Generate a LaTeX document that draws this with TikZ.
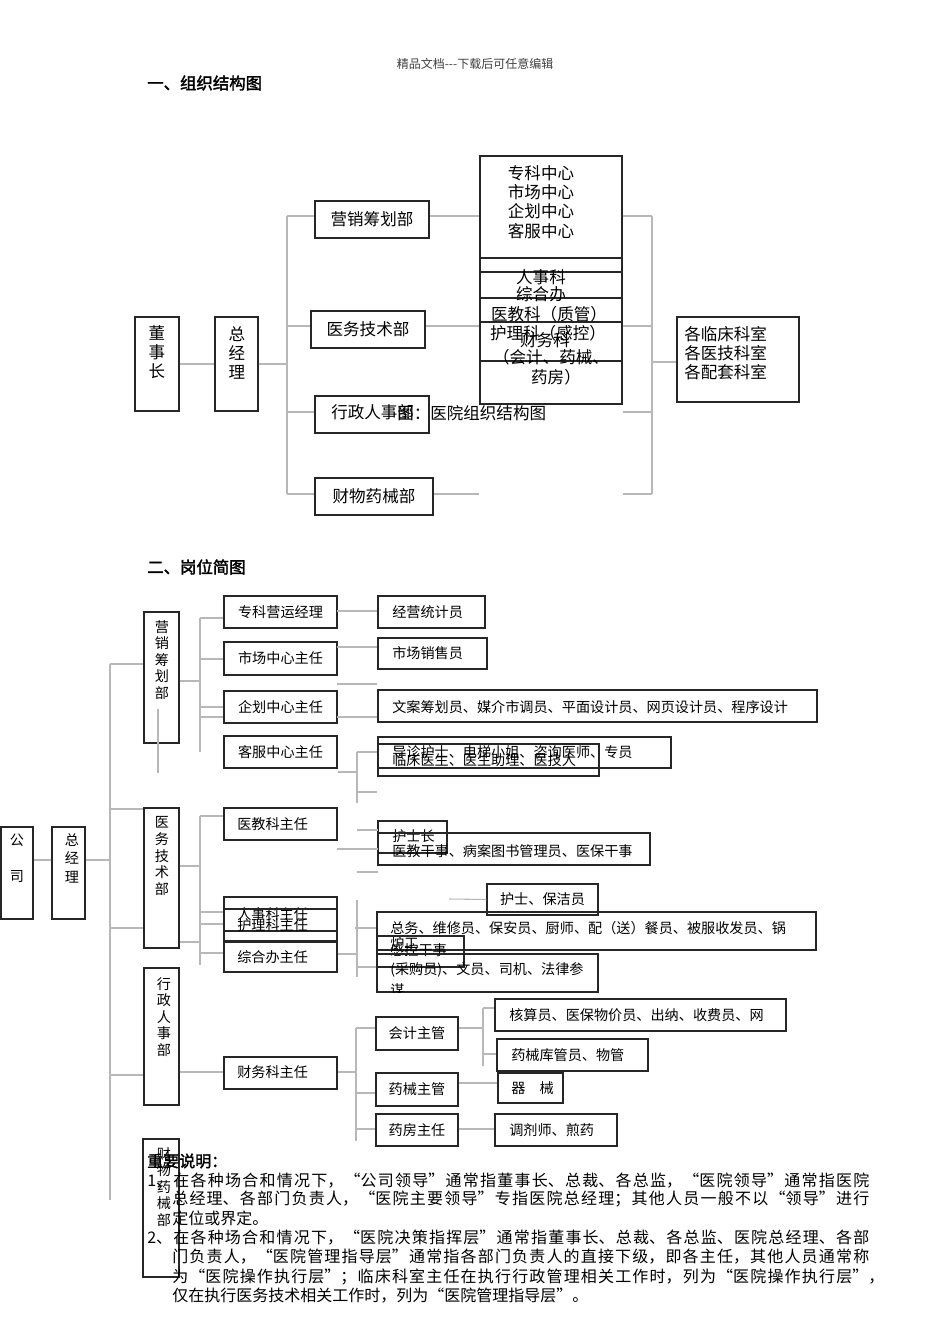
\documentclass[tikz,border=0pt]{standalone}
\usepackage{fontspec}
\setmainfont{Noto Sans CJK SC}
\newfontfamily\heiti[FakeBold=2]{Noto Sans CJK SC}
\usetikzlibrary{fit}
\tikzset{
  box/.style={draw=black!85, line width=1.1pt, inner sep=0pt},
  link/.style={draw=black!28, line width=0.8pt},
  bigT/.style={inner sep=0pt, font=\fontsize{12.4}{14.4}\selectfont},
  smallT/.style={inner sep=0pt, font=\fontsize{10.6}{12.4}\selectfont},
  rowT/.style={smallT, anchor=west},
  headT/.style={inner sep=0pt, anchor=west, font=\heiti\fontsize{12.3}{14}\selectfont},
  noteT/.style={inner sep=0pt, anchor=west, font=\fontsize{12}{14}\selectfont},
  colA/.style={bigT, align=center},
  colB/.style={smallT, align=center},
}
\newcommand\noteline[2]{\parbox{#1}{\XeTeXlinebreaklocale "zh"%
  \XeTeXlinebreakskip=0pt plus 2pt\relax\parfillskip=0pt\noindent #2}}

\begin{document}
\begin{tikzpicture}[x=0.75pt, y=-0.75pt]
  \fill[white] (0,0) rectangle (950,1344);
  \useasboundingbox (0,0) rectangle (950,1344);
  %% page header and first title
  \node[inner sep=0pt, text=black!75, font=\fontsize{9}{11}\selectfont]
       (hdr) at (475,64) {精品文档{-}{-}{-}下载后可任意编辑};
  \node[headT] (sec1) at (147,83) {一、组织结构图};

  %% part one: organisation chart
  \node[box, fit={(135,317) (179,411)}] (dsz) {};
  \node[colA] (dszT) at (157,352) {董\\事\\长};
  \node[box, fit={(215,317) (258,411)}] (zjl) {};
  \node[colA] (zjlT) at (237,353) {总\\经\\理};
  \node[box, fit={(315,201) (429,238)}] (yx) {};
  \node[bigT] (yxT) at (yx) {营销筹划部};
  \node[box, fit={(311,311) (425,348)}] (yw) {};
  \node[bigT] (ywT) at (yw) {医务技术部};
  \node[box, fit={(315,396) (429,433)}] (xz) {};
  \node[bigT, anchor=west] (xzT) at (331,412) {行政人事部};
  \node[box, fit={(315,478) (433,515)}] (cw) {};
  \node[bigT] (cwT) at (cw) {财物药械部};
  \node[bigT, anchor=west] (cap) at (397,413) {图：医院组织结构图};
  %% the stacked column of offices
  \node[box, fit={(480,156) (622,404)}] (ks) {};
  \node[colA] (ksT) at (541,202) {专科中心\\市场中心\\企划中心\\客服中心};
  \node[box, fit={(480,258) (622,272)}] (ks1) {};
  \node[box, fit={(480,272) (622,298)}] (ks2) {};
  \node[box, fit={(480,298) (622,322)}] (ks3) {};
  \node[box, fit={(480,322) (622,361)}] (ks4) {};
  \node[bigT] (rskT) at (541,277) {人事科};
  \node[bigT] (zhbT) at (541,294) {综合办};
  \node[bigT] (yjkT) at (549,314) {医教科（质管）};
  \node[bigT] (hlkT) at (548,333) {护理科（感控）};
  \node[bigT] (cwkT) at (545,340) {财务科};
  \node[bigT] (kjT) at (551,357) {（会计、药械、};
  \node[bigT] (yfT) at (556,377) {药房）};
  \node[box, fit={(677,317) (799,402)}] (gks) {};
  \node[colA, anchor=west, align=left] (gksT) at (684,353)
       {各临床科室\\各医技科室\\各配套科室};
  %% part one: connectors
  \coordinate (b1) at (287,216);
  \coordinate (b2) at (287,326);
  \coordinate (b3) at (287,412);
  \coordinate (b4) at (287,494);
  \coordinate (c1) at (652,216);
  \coordinate (c2) at (652,326);
  \coordinate (c3) at (652,412);
  \coordinate (c4) at (652,494);
  \coordinate (cm) at (652,362);
  \draw[link] (dsz.east) -- (zjl.west);
  \draw[link] (zjl.east) -- (zjl.east -| b1);
  \draw[link] (b1) -- (b4);
  \foreach \p/\n in {b1/yx, b2/yw, b3/xz, b4/cw}
    \draw[link] (\p) -- (\p -| \n.west);
  \draw[link] (b1 -| yx.east) -- (b1 -| ks.west)
              (b2 -| yw.east) -- (b2 -| ks.west)
              (b4 -| cw.east) -- (b4 -| ks.west);
  \draw[link] (c1) -- (c4);
  \foreach \p in {c1, c2, c3, c4}
    \draw[link] (\p -| ks.east) -- (\p);
  \draw[link] (cm) -- (cm -| gks.west);

  %% part two: posts
  \node[headT] (sec2) at (147,567) {二、岗位简图};
  \node[box, fit={(1,827) (33,919)}] (gs) {};
  \node[colB] (gsT) at (17,858) {公\\[15pt]司};
  \node[box, fit={(52,827) (85,919)}] (zjl2) {};
  \node[colB] (zjl2T) at (72,858) {总\\[1.5pt]经\\[1.5pt]理};
  \node[box, fit={(144,612) (179,743)}] (yx2) {};
  \node[colB] (yx2T) at (162,660) {营\\销\\筹\\划\\部};
  \node[box, fit={(144,808) (179,948)}] (yw2) {};
  \node[colB] (yw2T) at (162,856) {医\\务\\技\\术\\部};
  \node[box, fit={(144,968) (179,1105)}] (xz2) {};
  \node[colB] (xz2T) at (164,1017) {行\\政\\人\\事\\部};
  \node[box, fit={(143,1139) (179,1277)}] (cw2) {};
  \node[colB] (cw2T) at (164,1187) {财\\物\\药\\械\\部};
  %% heads of the offices
  \node[box, fit={(224,596) (337,628)}] (zkyy) {};
  \node[smallT] (zkyyT) at (zkyy) {专科营运经理};
  \node[box, fit={(224,642) (337,675)}] (sczx) {};
  \node[smallT] (sczxT) at (sczx) {市场中心主任};
  \node[box, fit={(224,691) (337,723)}] (qhzx) {};
  \node[smallT] (qhzxT) at (qhzx) {企划中心主任};
  \node[box, fit={(224,736) (337,768)}] (kfzx) {};
  \node[smallT] (kfzxT) at (kfzx) {客服中心主任};
  \node[box, fit={(224,808) (337,840)}] (yjk) {};
  \node[rowT] (yjkT2) at (237,824) {医教科主任};
  \node[box, fit={(224,897) (337,931)}] (rsk) {};
  \node[rowT] (rskT2) at (237,914) {人事科主任};
  \node[box, fit={(224,909) (337,941)}] (hlk) {};
  \node[rowT] (hlkT2) at (237,925) {护理科主任};
  \node[box, fit={(224,942) (337,972)}] (zhb) {};
  \node[rowT] (zhbT2) at (237,957) {综合办主任};
  \node[box, fit={(224,1057) (337,1089)}] (cwk) {};
  \node[rowT] (cwkT2) at (237,1072) {财务科主任};
  \node[box, fit={(376,1017) (458,1050)}] (kj) {};
  \node[smallT] (kjT2) at (kj) {会计主管};
  \node[box, fit={(376,1073) (458,1106)}] (yxzg) {};
  \node[smallT] (yxzgT) at (yxzg) {药械主管};
  \node[box, fit={(376,1114) (458,1146)}] (yfzr) {};
  \node[smallT] (yfzrT) at (yfzr) {药房主任};
  %% staff boxes
  \node[box, fit={(378,596) (485,628)}] (jytj) {};
  \node[rowT] (jytjT) at (392,612) {经营统计员};
  \node[box, fit={(378,638) (487,669)}] (scxs) {};
  \node[rowT] (scxsT) at (392,653) {市场销售员};
  \node[box, fit={(378,690) (817,722)}] (wa) {};
  \node[rowT] (waT) at (392,707) {文案筹划员、媒介市调员、平面设计员、网页设计员、程序设计};
  \node[box, fit={(378,737) (671,768)}] (dzhs) {};
  \node[rowT] (dzhsT) at (392,752) {导诊护士、电梯小姐、咨询医师、专员};
  \node[box, fit={(378,744) (599,776)}] (lcys) {};
  \node[rowT] (lcysT) at (392,760) {临床医生、医生助理、医技人};
  \node[box, fit={(378,821) (447,853)}] (hsz) {};
  \node[rowT] (hszT) at (392,836) {护士长};
  \node[box, fit={(378,833) (650,865)}] (yjgs) {};
  \node[rowT] (yjgsT) at (392,851) {医教干事、病案图书管理员、医保干事};
  \node[box, fit={(487,884) (598,915)}] (hsbj) {};
  \node[smallT] (hsbjT) at (hsbj) {护士、保洁员};
  \node[box, fit={(377,912) (816,950)}] (zw) {};
  \node[rowT] (zwT) at (390,928) {总务、维修员、保安员、厨师、配（送）餐员、被服收发员、锅};
  \node[rowT] (zwT2) at (390,943) {炉工};
  \node[box, fit={(377,936) (464,967)}] (gkgs) {};
  \node[rowT] (gkgsT) at (390,950) {感控干事};
  \node[box, fit={(377,954) (598,992)}] (cgy) {};
  \node[rowT] (cgyT) at (390,970) {(采购员)、文员、司机、法律参};
  \begin{scope}
    \clip (377,954) rectangle (598,992);
    \node[rowT] (cgyT2) at (390,990) {谋};
  \end{scope}
  \node[box, fit={(495,999) (786,1031)}] (hsy) {};
  \node[rowT] (hsyT) at (509,1015) {核算员、医保物价员、出纳、收费员、网};
  \node[box, fit={(497,1039) (648,1071)}] (ykg) {};
  \node[rowT] (ykgT) at (511,1055) {药械库管员、物管};
  \node[box, fit={(498,1073) (563,1103)}] (qx) {};
  \node[rowT] (qxT) at (511,1088) {器　械};
  \node[box, fit={(495,1114) (617,1146)}] (tjs) {};
  \node[rowT] (tjsT) at (509,1130) {调剂师、煎药};

  %% part two: connectors
  \coordinate (g1) at (110,860);
  \coordinate (a1) at (110,664);
  \coordinate (a2) at (110,809);
  \coordinate (a3) at (110,928);
  \coordinate (a4) at (110,1075);
  \coordinate (a5) at (110,1200);
  \draw[link] (g1 -| gs.east) -- (g1 -| zjl2.west) (g1 -| zjl2.east) -- (g1);
  \draw[link] (a1) -- (a5);
  \foreach \p/\n in {a1/yx2, a2/yw2, a3/yw2, a4/xz2}
    \draw[link] (\p) -- (\p -| \n.west);
  \draw[link] (158,709) -- (158,773);
  % marketing
  \coordinate (d0) at (200,681);
  \coordinate (d1) at (200,618);
  \coordinate (d2) at (200,659);
  \coordinate (d3) at (200,707);
  \coordinate (d4) at (200,717);
  \draw[link] (d1) -- (200,752);
  \draw[link] (d0 -| yx2.east) -- (d0);
  \foreach \p/\n in {d1/zkyy, d2/sczx, d3/qhzx, d4/qhzx}
    \draw[link] (\p) -- (\p -| \n.west);
  \coordinate (e1) at (337,611);
  \coordinate (e2) at (337,647);
  \coordinate (e3) at (337,684);
  \coordinate (e4) at (337,717);
  \foreach \p/\n in {e1/jytj, e2/scxs, e3/wa, e4/wa}
    \draw[link] (\p) -- (\p -| \n.west);
  \coordinate (f1) at (357,752);
  \coordinate (f2) at (357,772);
  \coordinate (f3) at (357,792);
  \draw[link] (f2 -| kfzx.east) -- (f2);
  \draw[link] (f1) -- (357,803);
  \draw[link] (f1) -- (f1 -| dzhs.west) (f3) -- (f3 -| dzhs.west);
  \draw[link] (357,830) -- (378,830) (337,849) -- (378,849) (357,872) -- (378,872);
  % medical
  \coordinate (h0) at (200,866);
  \coordinate (h9) at (200,942);
  \coordinate (h1) at (200,816);
  \coordinate (h2) at (200,912);
  \coordinate (h3) at (200,924);
  \coordinate (h4) at (200,953);
  \draw[link] (h1) -- (200,965);
  \draw[link] (h0 -| yw2.east) -- (h0) (h9 -| yw2.east) -- (h9);
  \foreach \p/\n in {h1/yjk, h2/rsk, h3/hlk, h4/zhb}
    \draw[link] (\p) -- (\p -| \n.west);
  \coordinate (i1) at (357,928);
  \coordinate (i2) at (357,954);
  \coordinate (i3) at (357,967);
  \draw[link] (357,900) -- (357,977);
  \draw[link] (i2 -| zhb.east) -- (i2);
  \draw[link] (355,928) -- (i1 -| zw.west) (i3) -- (i3 -| cgy.west);
  \draw[link] (449,899) -- (hsbj.west);
  % finance
  \coordinate (k0) at (200,1072);
  \coordinate (m0) at (356,1072);
  \coordinate (m1) at (356,1028);
  \coordinate (m2) at (356,1093);
  \coordinate (m3) at (356,1129);
  \draw[link] (k0 -| xz2.east) -- (k0 -| cwk.west) (k0 -| cwk.east) -- (m0);
  \draw[link] (m1) -- (356,1141);
  \foreach \p/\n in {m1/kj, m2/yxzg, m3/yfzr}
    \draw[link] (\p) -- (\p -| \n.west);
  \coordinate (n0) at (483,1028);
  \coordinate (n1) at (483,1008);
  \coordinate (n2) at (483,1054);
  \draw[link] (n0 -| kj.east) -- (n0);
  \draw[link] (n1) -- (483,1066);
  \draw[link] (n1) -- (n1 -| hsy.west) (n2) -- (n2 -| ykg.west);
  \coordinate (q1) at (470,1083);
  \coordinate (q2) at (470,1129);
  \draw[link] (q1 -| yxzg.east) -- (q1 -| qx.west)
              (q2 -| yfzr.east) -- (q2 -| tjs.west);

  %% notes
  \node[headT, font=\heiti\fontsize{12}{14}\selectfont] (imp) at (147,1161) {重要说明：};
  \node[noteT] (nt1) at (147,1181) {\noteline{541.5pt}{1、在各种场合和情况下，“公司领导”通常指董事长、总裁、各总监，“医院领导”通常指医院}};
  \node[noteT] (nt2) at (172,1199) {\noteline{522.75pt}{总经理、各部门负责人，“医院主要领导”专指医院总经理；其他人员一般不以“领导”进行}};
  \node[noteT] (nt3) at (172,1218) {定位或界定。};
  \node[noteT] (nt4) at (147,1238) {\noteline{541.5pt}{2、在各种场合和情况下，“医院决策指挥层”通常指董事长、总裁、各总监、医院总经理、各部}};
  \node[noteT] (nt5) at (172,1257) {\noteline{522.75pt}{门负责人，“医院管理指导层”通常指各部门负责人的直接下级，即各主任，其他人员通常称}};
  \node[noteT] (nt6) at (172,1277) {\noteline{534pt}{为“医院操作执行层”；临床科室主任在执行行政管理相关工作时，列为“医院操作执行层”，}};
  \node[noteT] (nt7) at (172,1296) {仅在执行医务技术相关工作时，列为“医院管理指导层”。};
\end{tikzpicture}
\end{document}
